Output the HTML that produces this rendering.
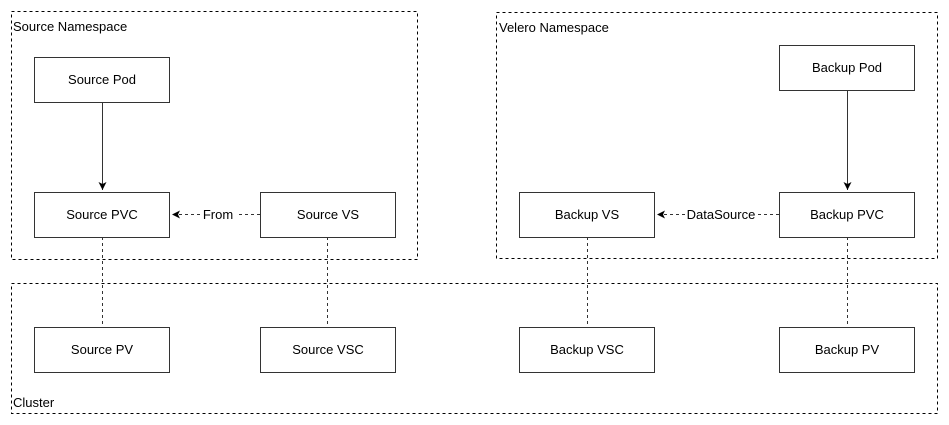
<!DOCTYPE html>
<html><head><meta charset="utf-8"><style>
html,body{margin:0;padding:0;background:#fff;}
svg{display:block;}
text{font-family:"Liberation Sans",Arial,sans-serif;font-size:13px;fill:#000;}
</style></head><body>
<svg width="949" height="425" viewBox="0 0 949 425" xmlns="http://www.w3.org/2000/svg">
<defs>
<marker id="a" markerWidth="10" markerHeight="10" refX="9" refY="5" orient="auto" markerUnits="userSpaceOnUse">
<path d="M1,1 L9,5 L1,9 L3,5 Z" fill="#000"/>
</marker>
</defs>
<g fill="none" stroke="#000" stroke-dasharray="3,3" stroke-width="1">
<rect x="11.5" y="11.5" width="406" height="248"/>
<rect x="496.5" y="12.5" width="441" height="246"/>
<rect x="11.5" y="283.5" width="926" height="130"/>
</g>
<g fill="none" stroke="#333" stroke-dasharray="3,3">
<line x1="102.5" y1="237" x2="102.5" y2="327"/>
<line x1="327.5" y1="237" x2="327.5" y2="327"/>
<line x1="587.5" y1="237" x2="587.5" y2="327"/>
<line x1="847.5" y1="237" x2="847.5" y2="327"/>
<line x1="260" y1="214.5" x2="237" y2="214.5"/>
<line x1="200" y1="214.5" x2="172" y2="214.5" marker-end="url(#a)"/>
<line x1="779" y1="214.5" x2="758" y2="214.5"/>
<line x1="685" y1="214.5" x2="657" y2="214.5" marker-end="url(#a)"/>
</g>
<g stroke="#333">
<line x1="102.5" y1="102" x2="102.5" y2="190" marker-end="url(#a)"/>
<line x1="847.5" y1="90" x2="847.5" y2="190" marker-end="url(#a)"/>
</g>
<g fill="#fff" stroke="#333">
<rect x="34.5" y="57.5" width="135" height="45"/>
<rect x="34.5" y="192.5" width="135" height="45"/>
<rect x="260.5" y="192.5" width="135" height="45"/>
<rect x="34.5" y="327.5" width="135" height="45"/>
<rect x="260.5" y="327.5" width="135" height="45"/>
<rect x="779.5" y="45.5" width="135" height="45"/>
<rect x="519.5" y="192.5" width="135" height="45"/>
<rect x="779.5" y="192.5" width="135" height="45"/>
<rect x="519.5" y="327.5" width="135" height="45"/>
<rect x="779.5" y="327.5" width="135" height="45"/>
</g>
<g text-anchor="middle">
<text x="102" y="84">Source Pod</text>
<text x="102" y="219">Source PVC</text>
<text x="328" y="219">Source VS</text>
<text x="102" y="354">Source PV</text>
<text x="328" y="354">Source VSC</text>
<text x="847" y="72">Backup Pod</text>
<text x="587" y="219">Backup VS</text>
<text x="847" y="219">Backup PVC</text>
<text x="587" y="354">Backup VSC</text>
<text x="847" y="354">Backup PV</text>
<text x="218" y="219">From</text>
<text x="721" y="219">DataSource</text>
</g>
<text x="13" y="31">Source Namespace</text>
<text x="499" y="32">Velero Namespace</text>
<text x="13" y="407">Cluster</text>
</svg>
</body></html>
